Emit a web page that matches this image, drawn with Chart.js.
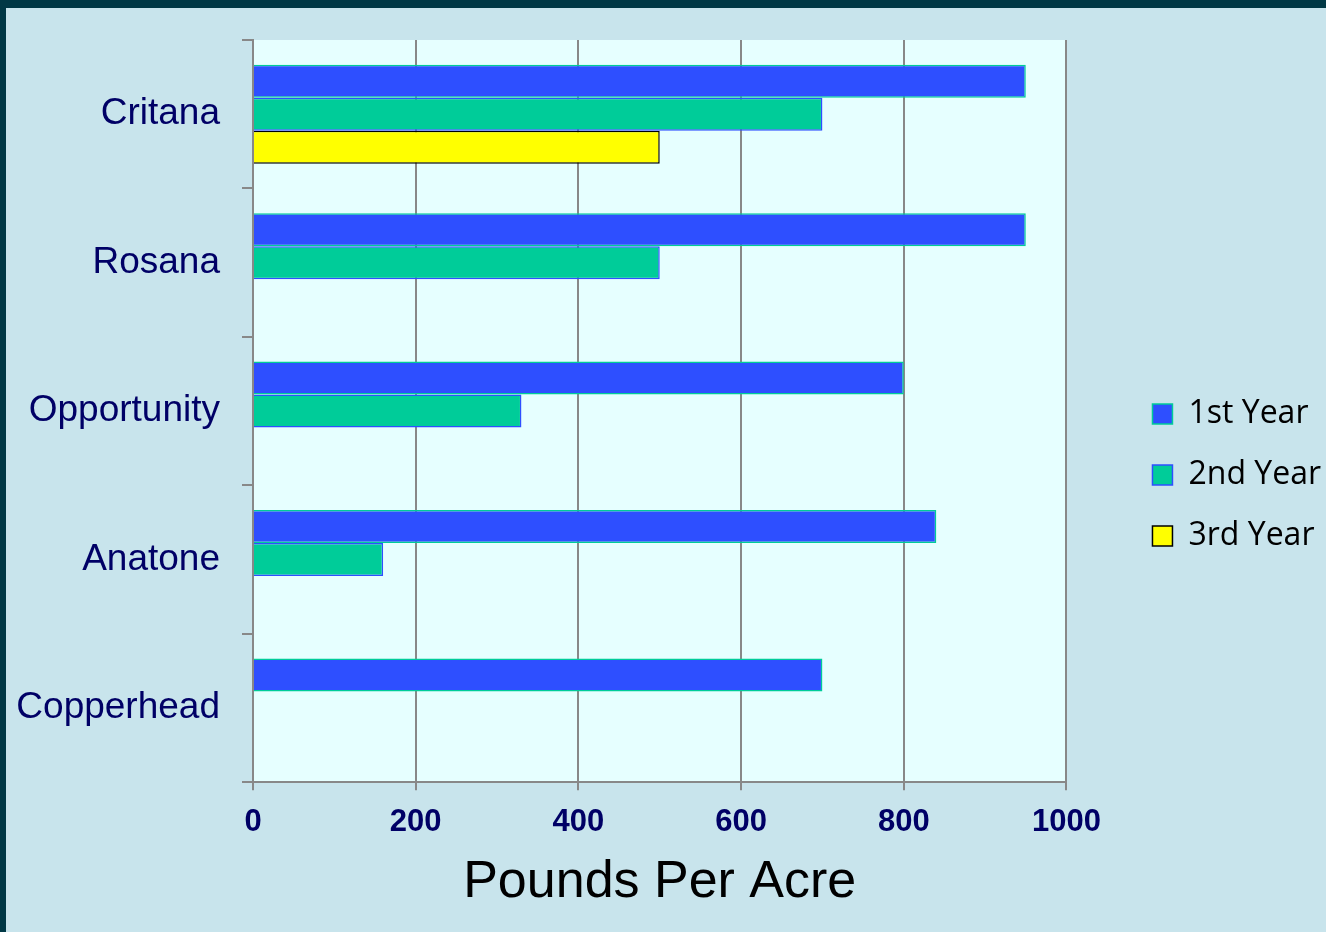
<!DOCTYPE html>
<html>
<head>
<meta charset="utf-8">
<script src="https://cdn.jsdelivr.net/npm/chart.js@4.4.1/dist/chart.umd.min.js"></script>
<style>
    html, body {
        margin: 0;
        padding: 0;
        background: #003845;
        width: 1326px;
        height: 932px;
        overflow: hidden;
    }
    #panel {
        position: absolute;
        left: 6px;
        top: 8px;
        width: 1320px;
        height: 924px;
        background: #c8e4ec;
    }
</style>
</head>
<body>
<div id="panel"><canvas id="yieldChart" width="1320" height="924"></canvas></div>
<script>
const varieties = ["Critana", "Rosana", "Opportunity", "Anatone", "Copperhead"];
const seriesNames = ["1st Year", "2nd Year", "3rd Year"];
const firstYear = [950, 950, 800, 840, 700];
const secondYear = [700, 500, 330, 160, null];
const thirdYear = [500, null, null, null, null];
const xTicks = [0, 200, 400, 600, 800, 1000];

const colors = {
    blue: "#2e4fff",
    teal: "#00cc99",
    yellow: "#ffff00",
    plot: "#e6ffff",
    grid: "#888888",
    navy: "#000066"
};

const plotBackground = {
    id: "plotBackground",
    beforeDraw(chart) {
        const { ctx, chartArea } = chart;
        ctx.save();
        ctx.fillStyle = colors.plot;
        ctx.fillRect(chartArea.left, chartArea.top, chartArea.right - chartArea.left, chartArea.bottom - chartArea.top);
        ctx.restore();
    }
};

const ctx = document.getElementById("yieldChart").getContext("2d");
new Chart(ctx, {
    type: "bar",
    data: {
        labels: varieties,
        datasets: [
            { label: seriesNames[0], data: firstYear, backgroundColor: colors.blue, borderColor: colors.teal, borderWidth: 1.5 },
            { label: seriesNames[1], data: secondYear, backgroundColor: colors.teal, borderColor: colors.blue, borderWidth: 1.5 },
            { label: seriesNames[2], data: thirdYear, backgroundColor: colors.yellow, borderColor: "#000000", borderWidth: 1.5 }
        ]
    },
    options: {
        indexAxis: "y",
        responsive: false,
        animation: false,
        categoryPercentage: 0.667,
        barPercentage: 1.0,
        layout: {
            padding: { left: 0, top: 32, right: -5, bottom: 22 }
        },
        plugins: {
            tooltip: { enabled: false },
            legend: {
                position: "right",
                labels: {
                    boxWidth: 20,
                    boxHeight: 20,
                    padding: 29,
                    color: "#000000",
                    font: { family: "'Open Sans', sans-serif", size: 32 }
                }
            }
        },
        scales: {
            x: {
                min: 0,
                max: 1000,
                afterBuildTicks(axis) {
                    axis.ticks = xTicks.map((value) => ({ value }));
                },
                grid: {
                    color: colors.grid,
                    lineWidth: 2,
                    tickLength: 8
                },
                border: { color: colors.grid, width: 2 },
                ticks: {
                    color: colors.navy,
                    padding: 14,
                    maxRotation: 0,
                    callback: (value) => String(value),
                    font: { family: "'Liberation Sans', Arial, sans-serif", size: 31, weight: "bold" }
                },
                title: {
                    display: true,
                    text: "Pounds Per Acre",
                    color: "#000000",
                    padding: { top: 0, bottom: 0 },
                    font: { family: "'Liberation Sans', Arial, sans-serif", size: 52, lineHeight: 1.05 }
                }
            },
            y: {
                grid: {
                    offset: true,
                    drawOnChartArea: false,
                    color: colors.grid,
                    lineWidth: 2,
                    tickLength: 11
                },
                border: { color: colors.grid, width: 2 },
                ticks: {
                    color: colors.navy,
                    padding: 22,
                    font: { family: "'Liberation Sans', Arial, sans-serif", size: 37 }
                },
                afterFit(scale) {
                    scale.width = 247;
                    scale.paddingTop = 0;
                    scale.paddingBottom = 0;
                }
            },
            // empty spacer axis: keeps the gap between the plot and the legend
            gap: {
                axis: "y",
                type: "category",
                position: "right",
                grid: { display: false },
                border: { display: false },
                ticks: { display: false },
                afterFit(scale) {
                    scale.width = 57;
                }
            }
        }
    },
    plugins: [plotBackground]
});
</script>
</body>
</html>
